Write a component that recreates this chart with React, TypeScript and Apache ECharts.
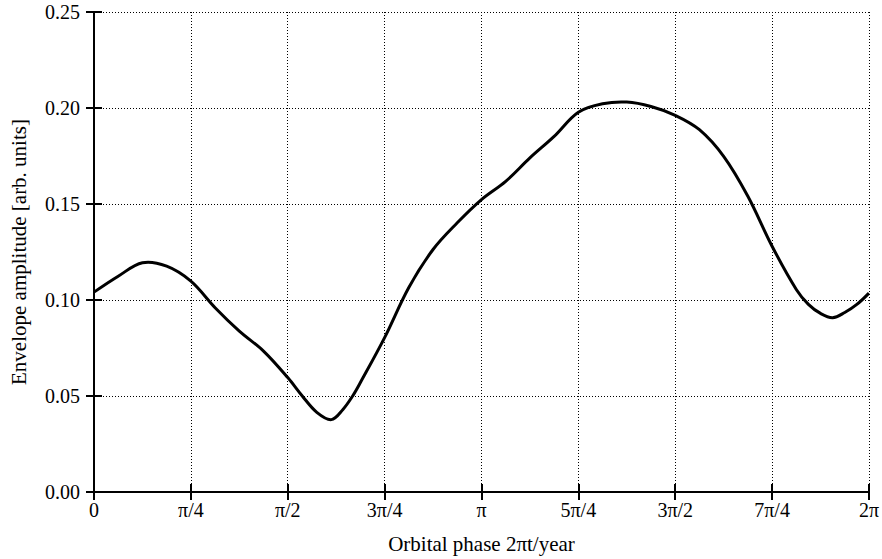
import React, { useEffect, useRef } from "react";
import * as echarts from "echarts";

// Orbital phase in units of π/4
const phaseQuarterPi = [
  0, 0.25, 0.5, 0.75, 1.0, 1.25, 1.5, 1.75, 2.0, 2.15, 2.3, 2.45, 2.57, 2.67, 2.75, 3.0,
  3.25, 3.5, 3.75, 4.0, 4.25, 4.5, 4.75, 5.0, 5.25, 5.5, 5.75, 6.0, 6.25, 6.5, 6.75, 7.0,
  7.25, 7.375, 7.5, 7.625, 7.75, 7.875, 8.0,
];
const amplitude = [
  0.1041, 0.1124, 0.1194, 0.1176, 0.1098, 0.096, 0.0838, 0.0734, 0.0596, 0.05, 0.0415,
  0.0377, 0.043, 0.05, 0.057, 0.0804, 0.1065, 0.1263, 0.1402, 0.1523, 0.1618, 0.174,
  0.1852, 0.1978, 0.2022, 0.2031, 0.2008, 0.1962, 0.1887, 0.1748, 0.154, 0.128, 0.1055,
  0.0977, 0.093, 0.0908, 0.0935, 0.0977, 0.1036,
];
const xTickLabels = ["0", "π/4", "π/2", "3π/4", "π", "5π/4", "3π/2", "7π/4", "2π"];
const yMin = 0;
const yMax = 0.25;
const yStep = 0.05;

const FONT = "'Liberation Serif', 'DejaVu Serif', serif";

export default function App() {
  const ref = useRef<HTMLDivElement>(null);
  useEffect(() => {
    if (!ref.current) return;
    const chart = echarts.init(ref.current, undefined, { renderer: "svg" });
    const axisLine = { show: true, lineStyle: { color: "#000", width: 2 } };
    const tick = { show: true, inside: true, length: 8, lineStyle: { color: "#000", width: 2 } };
    const split = { show: true, lineStyle: { color: "#000", width: 1, type: [1, 2] as any } };
    const data = phaseQuarterPi.map((x, i) => [x, amplitude[i]]);
    chart.setOption({
      animation: false,
      backgroundColor: "#fff",
      grid: { left: 93, right: 13, top: 12, bottom: 66, containLabel: false },
      xAxis: [
        {
          type: "value",
          min: 0,
          max: 8,
          interval: 1,
          name: "Orbital phase 2πt/year",
          nameLocation: "middle",
          nameGap: 41,
          nameTextStyle: { fontFamily: FONT, fontSize: 21, color: "#000" },
          axisLine,
          axisTick: tick,
          splitLine: split,
          axisLabel: {
            fontFamily: FONT,
            fontSize: 20,
            color: "#000",
            margin: 8,
            formatter: (v: number) => xTickLabels[Math.round(v)] ?? "",
          },
        },
        {
          type: "value",
          position: "top",
          min: 0,
          max: 8,
          interval: 1,
          axisLine,
          axisTick: tick,
          splitLine: { show: false },
          axisLabel: { show: false },
        },
      ],
      yAxis: [
        {
          type: "value",
          min: yMin,
          max: yMax,
          interval: yStep,
          name: "Envelope amplitude [arb. units]",
          nameLocation: "middle",
          nameGap: 65,
          nameTextStyle: { fontFamily: FONT, fontSize: 21, color: "#000" },
          axisLine,
          axisTick: tick,
          splitLine: split,
          axisLabel: {
            fontFamily: FONT,
            fontSize: 20,
            color: "#000",
            margin: 14,
            formatter: (v: number) => v.toFixed(2),
          },
        },
        {
          type: "value",
          position: "right",
          min: yMin,
          max: yMax,
          interval: yStep,
          axisLine,
          axisTick: tick,
          splitLine: { show: false },
          axisLabel: { show: false },
        },
      ],
      series: [
        {
          type: "custom",
          xAxisIndex: 0,
          yAxisIndex: 0,
          data,
          encode: { x: 0, y: 1 },
          renderItem: (params: any, api: any) => {
            if (params.dataIndex !== 0) return { type: "group", children: [] };
            const pts = data.map((d) => api.coord(d));
            return {
              type: "polyline",
              shape: { points: pts, smooth: 0.35 },
              style: { stroke: "#000", lineWidth: 3, fill: "none", lineJoin: "round" },
              silent: true,
            };
          },
        },
      ],
    });
    return () => chart.dispose();
  }, []);
  return <div ref={ref} style={{ width: 882, height: 559, position: "absolute", left: 0, top: 0 }} />;
}
